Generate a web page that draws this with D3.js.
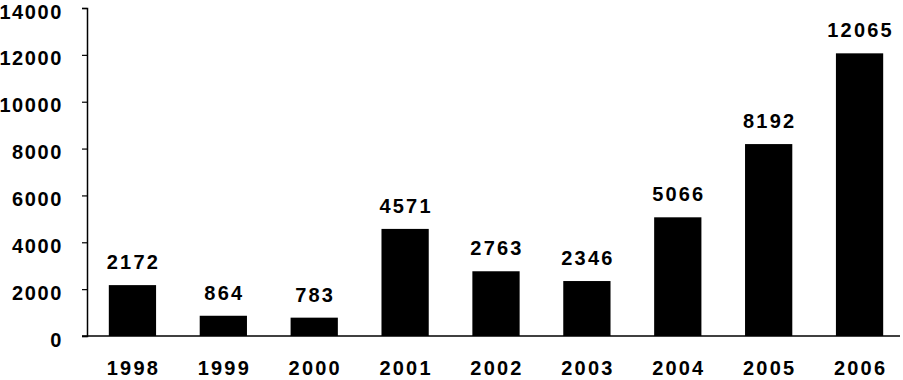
<!DOCTYPE html>
<html>
<head>
<meta charset="utf-8">
<script src="https://cdn.jsdelivr.net/npm/d3@7"></script>
<style>
  body { margin: 0; background: #fff; }
  text { font-family: "Liberation Sans", Arial, sans-serif; font-weight: bold; font-size: 20px; fill: #000; letter-spacing: 2.2px; }
</style>
</head>
<body>
<div id="chart"></div>
<script>
var
  width = 903,
  height = 380;

var years = ["1998", "1999", "2000", "2001", "2002", "2003", "2004", "2005", "2006"];
var values = [2172, 864, 783, 4571, 2763, 2346, 5066, 8192, 12065];
var yTicks = [0, 2000, 4000, 6000, 8000, 10000, 12000, 14000];

var svg = d3.select("#chart")
  .append("svg")
  .attr("width", width)
  .attr("height", height);

var x = d3.scaleBand()
  .domain(years)
  .range([87, 905])
  .paddingInner(0.48)
  .paddingOuter(0.24);

var y = d3.scaleLinear()
  .domain([0, 14000])
  .range([336, 8]);

// bars
svg.selectAll(".bar")
  .data(values)
  .enter().append("rect")
  .attr("class", "bar")
  .attr("x", function(d, i) { return x(years[i]); })
  .attr("y", function(d) { return y(d); })
  .attr("width", x.bandwidth())
  .attr("height", function(d) { return y(0) - y(d); })
  .attr("fill", "#000");

// value labels
svg.selectAll(".val")
  .data(values)
  .enter().append("text")
  .attr("class", "val")
  .attr("x", function(d, i) { return x(years[i]) + x.bandwidth() / 2 + 1; })
  .attr("y", function(d) { return y(d) - 16; })
  .attr("text-anchor", "middle")
  .text(function(d) { return d; });

// y axis
var yAxis = svg.append("g")
  .attr("transform", "translate(87,0)")
  .call(d3.axisLeft(y).tickValues(yTicks).tickSize(5).tickPadding(19).tickFormat(d3.format("d")));
yAxis.select(".domain").attr("stroke", "#000").attr("stroke-width", 1.5);
yAxis.selectAll(".tick line").attr("stroke", "#000").attr("stroke-width", 1.2);
yAxis.selectAll(".tick text")
  .attr("dy", "0.5em")
  .style("font-size", "20px")
  .style("letter-spacing", "1.6px")
  .style("font-family", "'Liberation Sans', Arial, sans-serif");

// baseline
svg.append("line")
  .attr("x1", 82)
  .attr("x2", 900)
  .attr("y1", y(0))
  .attr("y2", y(0))
  .attr("stroke", "#000")
  .attr("stroke-width", 1.5);

// category labels
svg.selectAll(".cat")
  .data(years)
  .enter().append("text")
  .attr("class", "cat")
  .attr("x", function(d) { return x(d) + x.bandwidth() / 2 + 1; })
  .attr("y", 375)
  .attr("text-anchor", "middle")
  .text(function(d) { return d; });
</script>
</body>
</html>
